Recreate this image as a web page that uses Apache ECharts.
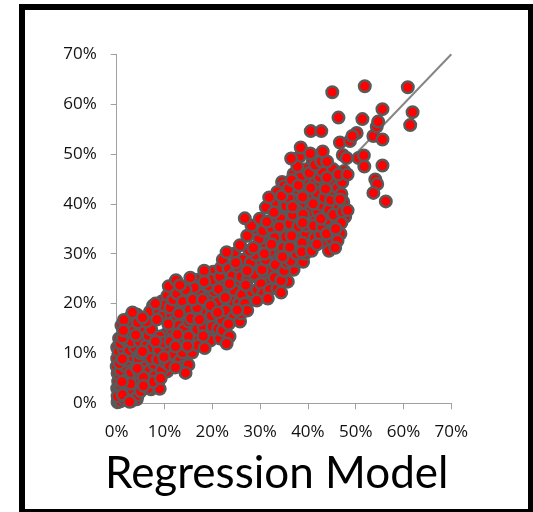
<!DOCTYPE html>
<html><head><meta charset="utf-8">
<style>html,body{margin:0;padding:0;background:#fff}#c{width:533px;height:512px}</style>
<script src="https://cdn.jsdelivr.net/npm/echarts@6/dist/echarts.min.js"></script>
</head><body><div id="c"></div>
<script>
const tickValues = [0,10,20,30,40,50,60,70];
const titleText = 'Regression Model';
const refLine = [[0,0],[70,70]];
const densePoints = [
[0.2,0.2],[0.1,3.0],[0.3,4.4],[0.2,6.0],[0.0,7.4],[0.1,9.0],[0.1,11.2],[0.5,13.0],[1.0,15.6],[2.8,17.2],[4.2,17.8],[6.4,15.2],[7.4,16.4],[7.6,19.6],[9.4,20.4],[10.4,18.2],[10.6,21.6],[11.8,23.6],[12.6,19.6],[13.6,16.8],[14.6,20.0],[15.2,22.0],[17.0,24.8],[17.4,23.4],[19.4,21.2],[18.8,18.4],[18.0,16.4],[16.0,15.0],[14.6,9.4],[12.8,12.6],[11.0,9.0],[10.6,6.4],[8.6,4.2],[7.2,2.8],[6.2,4.4],[4.2,0.8],[3.0,0.4],[1.6,3.2],[3.0,10.6],[4.2,9.8],[5.8,12.8],[7.8,10.4],[9.2,11.6],[10.2,13.8],[20.8,19.6],[20.2,26.4],[23.2,26.0],[22.6,19.6],[23.8,22.0],[25.0,24.0],[25.4,22.2],[27.2,29.0],[26.6,27.2],[28.4,27.0],[29.6,27.6],[29.6,25.2],[28.4,20.8],[31.4,25.0],[32.2,26.6],[31.8,24.2],[32.6,28.8],[33.8,30.4],[33.6,32.0],[31.6,33.8],[30.6,36.6],[33.4,36.8],[35.0,35.8],[35.6,37.6],[34.2,38.6],[35.8,24.4],[37.0,26.8],[37.6,28.6],[35.8,30.0],[39.0,28.4],[40.0,31.8],[40.6,34.4],[41.6,37.2],[39.6,39.8],[38.4,39.6],[37.6,42.4],[39.4,42.8],[41.2,42.6],[42.8,44.4],[44.4,42.4],[45.8,41.2],[46.0,46.4],[47.6,46.6],[45.4,39.6],[43.6,38.2],[43.2,32.4],[44.4,30.6],[46.8,34.0],[47.8,37.4],[39.4,46.0],[41.0,48.6],[38.2,49.4],[37.0,46.0],[34.6,44.4]
];
const interiorPoints = [
[0.3,0.5],[0.5,1.2],[0.8,0.4],[0.4,2.2],[1.0,2.6],[1.6,0.8],[0.6,3.2],[1.8,2.4],[2.2,1.4],[0.2,1.4],[0.9,3.6],[3.2,1.2],[3.6,2.2],[4.4,1.6],[2.6,2.8],[0.7,5.4],[1.6,5.6],[2.4,5.0],[3.4,4.6],[4.4,4.2],[5.0,2.4],[0.8,6.6],[1.8,7.4],[3.0,6.2],[3.6,7.8],[4.8,6.0],[6.2,5.4],[6.6,3.0],[0.6,8.0],[2.2,8.6],[3.2,9.4],[4.6,8.8],[5.8,7.2],[6.8,6.6],[8.0,5.6],[7.8,7.8],[0.4,10.4],[1.4,10.8],[2.6,10.6],[3.8,11.2],[5.0,10.0],[6.4,9.6],[7.2,9.0],[8.6,8.8],[9.4,6.6],[0.8,12.0],[2.0,12.6],[3.0,12.4],[4.8,12.4],[6.2,11.6],[7.4,11.2],[8.8,10.8],[10.2,8.2],[10.8,10.6],[11.0,7.6],[1.2,13.2],[2.4,14.4],[3.4,15.2],[5.4,14.6],[6.6,13.6],[7.2,14.8],[9.0,13.4],[9.8,12.2],[11.2,12.4],[12.0,9.8],[13.2,8.6],[13.8,10.2],[14.0,7.4],[2.2,16.4],[4.4,16.2],[6.2,16.4],[7.0,18.4],[8.8,18.6],[9.6,17.4],[10.0,19.6],[11.4,17.6],[11.6,14.8],[12.0,16.4],[13.0,15.6],[14.0,14.8],[15.0,12.0],[15.8,10.2],[16.4,12.8],[16.8,14.8],[17.0,11.6],[11.2,19.2],[11.8,20.8],[12.6,22.0],[13.8,20.4],[14.0,18.4],[15.2,18.8],[15.0,16.4],[16.2,17.2],[16.8,19.2],[17.4,21.8],[16.2,23.2],[14.4,22.8],[18.2,15.2],[19.2,13.6],[19.6,12.6],[20.0,15.4],[19.8,17.6],[21.2,15.0],[21.6,13.0],[22.2,14.6],[22.0,16.8],[22.8,18.6],[21.2,20.4],[20.4,22.4],[19.2,23.6],[20.0,24.8],[21.6,25.4],[22.6,23.6],[21.8,27.2],[22.2,28.8],[23.4,27.0],[24.2,25.6],[24.6,22.6],[24.4,20.4],[25.6,20.2],[26.2,21.8],[26.8,20.0],[24.4,17.2],[25.8,16.4],[26.0,18.0],[24.6,30.0],[25.2,27.4],[26.4,28.8],[26.0,25.4],[27.4,24.8],[28.2,22.4],[28.8,25.8],[28.0,28.2],[29.0,29.8],[27.8,30.6],[29.4,22.8],[30.2,24.0],[30.4,26.8],[30.6,22.0],[32.0,22.8],[31.2,28.8],[31.0,32.2],[29.8,33.0],[29.2,35.0],[30.6,34.6],[32.4,35.2],[33.0,33.2],[32.0,30.4],[33.2,27.8],[33.0,25.2],[33.6,23.0],[34.4,24.6],[35.0,26.6],[34.4,22.2],[35.6,28.2],[34.8,31.2],[35.4,33.4],[34.4,37.0],[33.8,39.4],[32.8,40.0],[35.4,39.6],[36.2,36.0],[36.8,30.4],[36.4,28.6],[37.6,30.0],[37.8,33.4],[38.0,35.4],[37.6,38.8],[37.2,40.8],[36.0,41.2],[39.4,30.0],[39.6,33.8],[39.8,35.6],[40.2,38.4],[40.4,41.6],[39.8,44.8],[41.4,44.2],[42.0,42.2],[42.0,38.6],[41.2,35.6],[41.4,33.2],[42.6,33.8],[43.0,35.4],[42.8,39.8],[43.4,41.2],[44.0,36.8],[44.4,38.8],[44.8,40.8],[45.2,42.8],[44.6,44.4],[44.8,33.0],[42.4,45.4],[46.0,37.0],[46.2,43.2],[47.0,42.0],[46.4,39.2],[47.4,40.4],[43.0,46.6],[45.2,47.0],[38.6,45.6],[39.8,47.0],[35.0,43.6],[33.6,42.4]
];
const edgePoints = [
[1.5,16.7],[3.3,18.2],[5.4,17.2],[1.4,14.6],[4.0,13.7],[8.1,20.0],[8.4,16.8],[8.1,12.4],[10.8,15.9],[10.9,23.5],[12.4,24.7],[13.2,23.7],[15.4,25.2],[18.3,26.6],[18.3,24.4],[15.9,20.8],[18.0,20.8],[19.6,19.6],[21.1,18.2],[27.3,18.6],[25.2,18.7],[23.6,13.4],[23.0,12.0],[23.4,15.9],[18.4,11.1],[18.1,13.5],[15.0,13.4],[12.7,13.8],[12.3,7.2],[15.0,7.7],[14.4,6.1],[9.9,9.3],[9.0,2.9],[7.5,4.3],[9.2,5.0],[5.6,5.2],[5.6,3.5],[4.3,7.0],[2.9,3.9],[1.1,4.3],[1.2,1.7],[2.7,0.3],[1.2,8.9],[5.4,10.4],[13.0,18.0],[15.5,17.0],[12.3,11.4],[14.8,11.5],[17.3,16.8],[21.3,22.9],[23.6,24.0],[27.0,23.7],[22.7,21.2],[29.3,20.6],[31.6,21.0],[24.9,28.2],[27.3,26.6],[23.0,30.3],[25.8,31.7],[28.6,31.2],[30.9,30.0],[27.3,33.6],[28.2,35.6],[26.8,37.1],[29.9,37.0],[31.4,36.4],[31.2,39.3],[31.9,41.3],[32.9,38.3],[34.5,41.6],[34.0,35.4],[32.4,31.9],[34.7,29.4],[36.2,31.3],[36.6,33.6],[36.8,37.8],[36.8,39.4],[36.0,43.1],[36.6,44.8],[38.0,43.7],[38.9,41.4],[39.0,37.9],[38.9,36.2],[38.8,32.2],[38.7,30.4],[40.8,30.6],[41.9,31.9],[43.9,34.0],[42.7,37.0],[41.1,40.0],[40.6,43.2],[43.7,43.0],[45.3,37.8],[46.7,40.9],[47.2,38.4],[48.3,38.7],[47.0,36.2],[45.8,35.0],[46.2,32.6],[45.7,31.2],[47.2,44.4],[44.0,45.3],[40.3,46.2],[46.4,45.9],[48.3,45.9],[41.5,47.8],[37.8,47.5],[36.5,49.1],[42.8,48.5],[44.0,48.5],[38.5,51.3],[40.5,50.1],[43.1,50.5],[47.3,49.8],[48.1,49.2],[50.6,49.2],[51.7,49.7],[51.8,47.5],[55.6,47.7],[54.1,44.9],[54.5,44.0],[53.7,42.2],[56.3,40.5],[46.7,52.3],[48.8,52.6],[50.2,54.2],[49.3,53.6],[53.7,53.6],[55.6,52.9],[40.6,54.6],[42.8,54.6],[54.4,55.5],[54.7,56.5],[46.4,57.3],[51.4,57.0],[55.6,59.0],[61.4,55.8],[61.9,58.4],[45.1,62.4],[51.9,63.6],[60.9,63.4]
];
const scatterData = densePoints.concat(interiorPoints, edgePoints);

const chart = echarts.init(document.getElementById('c'), null, {renderer:'canvas'});
const axisCommon = {
  type:'value', min:0, max:70, interval:10,
  axisLine:{show:true, onZero:false, lineStyle:{color:'#a0a0a0', width:1}},
  axisTick:{show:true, length:6, lineStyle:{color:'#a0a0a0', width:1}},
  splitLine:{show:false},
  axisLabel:{color:'#111', fontFamily:'Open Sans', fontSize:17, margin:20, showMinLabel:true, showMaxLabel:true, formatter:v=>v+'%'}
};
chart.setOption({
  animation:false,
  backgroundColor:'#fff',
  grid:{left:116.7, right:81.7, top:54.3, bottom:108.7},
  xAxis:Object.assign({}, axisCommon),
  yAxis:Object.assign({}, axisCommon),
  title:{text:titleText, left:105, top:452, padding:0, textStyle:{fontFamily:'Lato', fontWeight:'normal', fontSize:44, color:'#000'}},
  graphic:[{type:'rect', z:100, shape:{x:22,y:7,width:509,height:505}, style:{fill:'none', stroke:'#000', lineWidth:6}}],
  series:[
    {type:'line', data:refLine, symbol:'none', silent:true, lineStyle:{color:'#868686', width:2}, z:1},
    {type:'scatter', data:scatterData, clip:false, symbol:'circle', symbolSize:11.5, z:2,
     itemStyle:{color:'#ff0000', borderColor:'#595959', borderWidth:2.5, opacity:1}, large:false}
  ]
});
</script></body></html>
